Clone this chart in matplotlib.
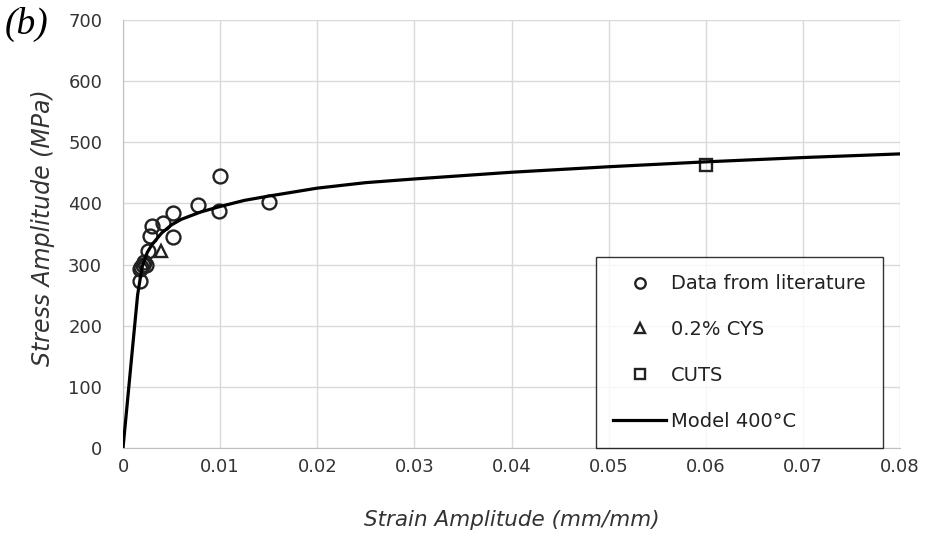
import matplotlib.pyplot as plt

# Data from literature (circles)
lit_strain = [0.0100, 0.00775, 0.0099, 0.0150, 0.0051, 0.00415, 0.00295, 0.0028,
              0.0051, 0.0026, 0.0021, 0.00175, 0.0024, 0.0018, 0.0019, 0.0022]
lit_stress = [445, 398, 388, 402, 385, 368, 363, 346,
              345, 322, 300, 292, 300, 273, 296, 305]

# 0.2% CYS (triangle)
cys_strain = [0.0039]
cys_stress = [322]

# CUTS (square)
cuts_strain = [0.06]
cuts_stress = [463]

# Model 400°C curve
model_strain = [0, 0.0010, 0.0015, 0.0018, 0.0020, 0.0025, 0.003, 0.004, 0.005, 0.006,
                0.008, 0.010, 0.0125, 0.015, 0.020, 0.025, 0.030, 0.040, 0.050,
                0.060, 0.070, 0.080]
model_stress = [0, 167, 250, 280, 298, 320, 333, 352, 365, 374,
                386, 395, 405, 412, 425, 434, 440, 451, 460,
                468, 475, 481]

x_ticks = [0, 0.01, 0.02, 0.03, 0.04, 0.05, 0.06, 0.07, 0.08]
x_labels = ['0', '0.01', '0.02', '0.03', '0.04', '0.05', '0.06', '0.07', '0.08']
y_ticks = [0, 100, 200, 300, 400, 500, 600, 700]

plt.rcParams['font.family'] = ['DejaVu Sans']

fig = plt.figure(figsize=(9.27, 5.37), dpi=100)
ax = fig.add_axes([0.1327, 0.1657, 0.8382, 0.7971])

ax.plot(lit_strain, lit_stress, 'o', mfc='none', mec='#222222', mew=1.7, ms=10,
        label='Data from literature', zorder=3)
ax.plot(cys_strain, cys_stress, '^', mfc='none', mec='#222222', mew=1.7, ms=9,
        label='0.2% CYS', zorder=3)
ax.plot(cuts_strain, cuts_stress, 's', mfc='none', mec='#222222', mew=1.7, ms=9,
        label='CUTS', zorder=3)
ax.plot(model_strain, model_stress, '-', color='black', lw=2.3,
        label='Model 400°C', zorder=4)

ax.set_xlim(0, 0.08)
ax.set_ylim(0, 700)
ax.set_xticks(x_ticks)
ax.set_xticklabels(x_labels)
ax.set_yticks(y_ticks)
ax.tick_params(length=0, labelsize=13, colors='#333333')
ax.tick_params(axis='x', pad=7)
ax.tick_params(axis='y', pad=15)
ax.grid(True, color='#d9d9d9', lw=1)
ax.set_axisbelow(True)
for s in ['top', 'right']:
    ax.spines[s].set_visible(False)
for s in ['bottom', 'left']:
    ax.spines[s].set_color('#bfbfbf')

ax.set_xlabel('Strain Amplitude (mm/mm)', fontsize=15.5, style='italic', color='#333333', labelpad=25)
ax.set_ylabel('Stress Amplitude (MPa)', fontsize=17, style='italic', color='#333333', labelpad=8)
ax.yaxis.set_label_coords(-0.088, 0.515)

leg = ax.legend(loc='lower right', bbox_to_anchor=(0.978, 0.0), borderaxespad=0,
                fontsize=14, frameon=True, fancybox=False, edgecolor='black',
                handlelength=2.75, labelspacing=1.38, borderpad=0.88, markerscale=0.75,
                handletextpad=0.25)
leg.get_frame().set_linewidth(1.0)
for t in leg.get_texts():
    t.set_color('#222222')

fig.text(0.005, 0.955, '(b)', fontsize=27, family='Liberation Serif', style='italic',
         va='center', ha='left')

fig.savefig('out.png', dpi=100)
